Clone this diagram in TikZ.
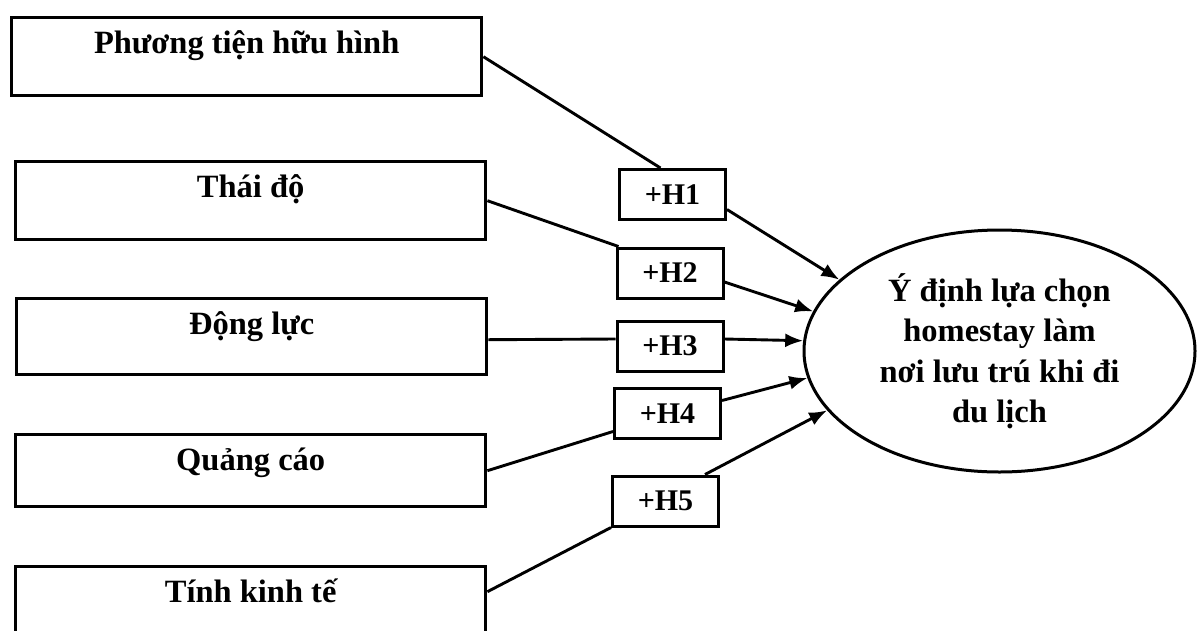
\documentclass[tikz,border=0pt]{standalone}
\usepackage{fontspec}
\setmainfont{Liberation Serif}
\usetikzlibrary{shapes.geometric,arrows.meta}
\begin{document}
\begin{tikzpicture}[x=1pt,y=-1pt,
 factor/.style={draw,line width=3.4pt,rectangle,minimum width=470pt,inner xsep=0pt,inner ysep=14pt,text height=22pt,font=\fontsize{32.5}{38}\selectfont\bfseries,anchor=north west},
 hyp/.style={draw,line width=3pt,minimum width=106pt,minimum height=50pt,inner sep=0pt,font=\fontsize{30}{36}\selectfont\bfseries},
 outcome/.style={draw,ellipse,line width=3pt,minimum width=391pt,minimum height=242pt,inner sep=0pt,align=center,font=\fontsize{32.5}{40.5}\selectfont\bfseries},
 link/.style={line width=2.9pt},
 arr/.style={link,-{Latex[length=18pt,width=14pt]}}]
\useasboundingbox (0,0) rectangle (1197,630);
\fill[white] (0,0) rectangle (1197,630);
\node[factor,text depth=28pt] (b1) at (10,16) {Phương tiện hữu hình};
\node[factor,text depth=28pt] (b2) at (14,160) {Thái độ};
\node[factor,text depth=26pt] (b3) at (15,297) {Động lực};
\node[factor,text depth=22pt] (b4) at (14,433) {Quảng cáo};
\node[factor,text depth=26pt] (b5) at (14,565) {Tính kinh tế};
\node[hyp] (h1) at (672.5,194.5) {+H1};
\node[hyp] (h2) at (670,273) {+H2};
\node[hyp] (h3) at (670,346) {+H3};
\node[hyp] (h4) at (667.5,413.5) {+H4};
\node[hyp] (h5) at (665.5,501) {+H5};
\node[outcome] (ell) at (999.5,351) {Ý định lựa chọn\\homestay làm\\nơi lưu trú khi đi\\du lịch};
\draw[link] (b1.east) -- ([xshift=-12pt]h1.north);
\draw[arr] ([yshift=-15pt]h1.east) -- (ell.156);
\draw[link] (b2.east) -- ([xshift=3pt]h2.north west);
\draw[arr] ([yshift=-9pt]h2.east) -- (ell.168);
\draw[link] ([yshift=-3pt]b3.east) -- ([yshift=7pt]h3.west);
\draw[arr] ([yshift=7pt]h3.east) -- (ell.177);
\draw[link] (b4.east) -- ([yshift=-18pt]h4.west);
\draw[arr] ([yshift=13pt]h4.east) -- (ell.188);
\draw[link] ([yshift=13pt]b5.east) -- (h5.south west);
\draw[arr] ([xshift=-15pt]h5.north east) -- (ell.199);
\end{tikzpicture}
\end{document}
